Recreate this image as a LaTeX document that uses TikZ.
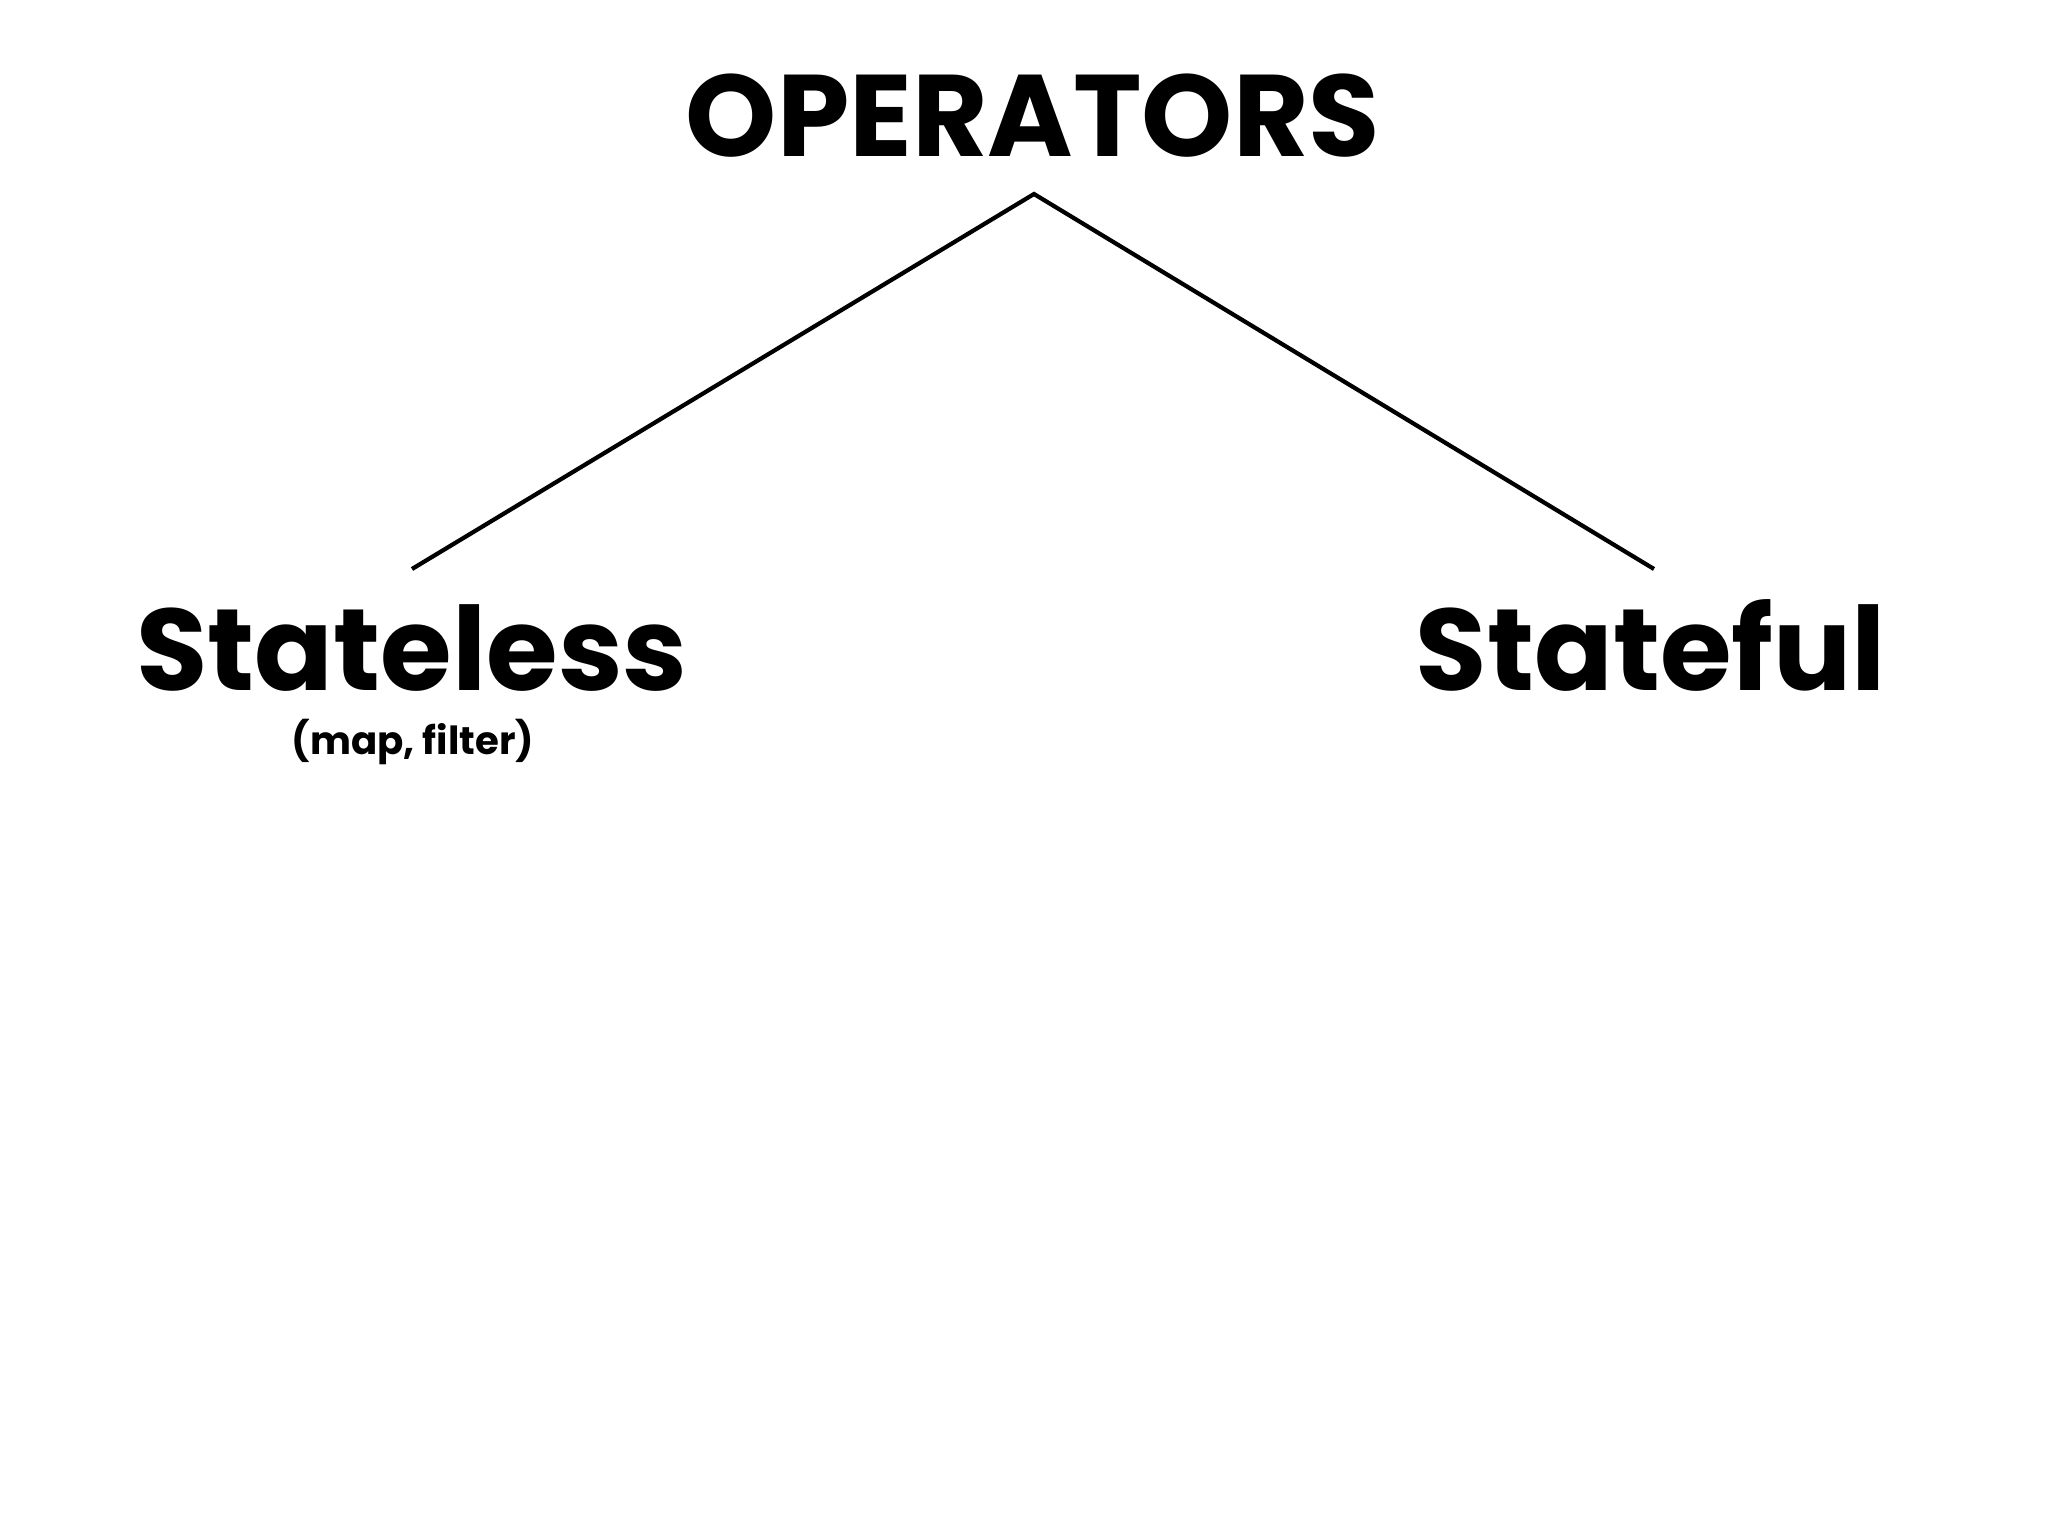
\documentclass[tikz,border=0pt]{standalone}
\usepackage{fontspec}
\setmainfont{Poppins}
\begin{document}
\begin{tikzpicture}[x=0.01cm,y=-0.01cm,
  big/.style={font=\fontsize{33}{36}\selectfont\bfseries,anchor=base,inner sep=0},
  small/.style={font=\fontsize{11}{13}\selectfont\bfseries,anchor=base,inner sep=0},
  link/.style={line width=1.2pt}]
\useasboundingbox (0,0) rectangle (2048,1536);
\node[big] (ops) at (1033,156) {OPERATORS};
\node[big] (sl) at (412,690) {Stateless};
\node[small] (sub) at (413,754) {(map, filter)};
\node[big] (sf) at (1651,690) {Stateful};
\coordinate (apex) at (1034,194);
\coordinate (lend) at (412,569);
\coordinate (rend) at (1654,569);
\draw[link] (lend) -- (apex) -- (rend);
\end{tikzpicture}
\end{document}
